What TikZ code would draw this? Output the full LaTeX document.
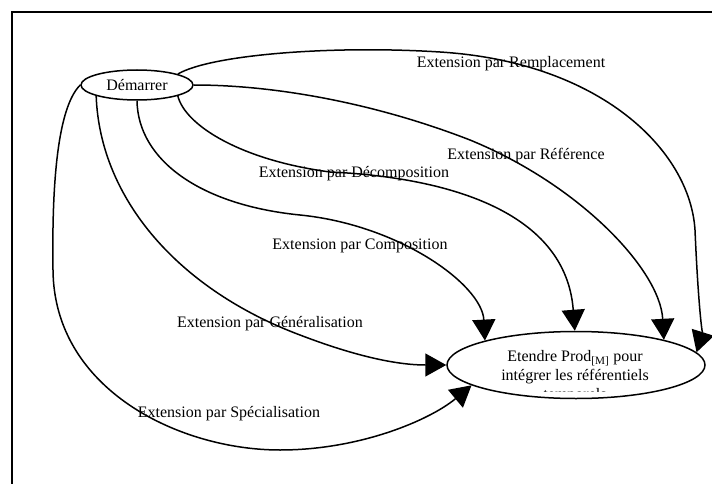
\documentclass[tikz,border=0pt]{standalone}
\usepackage{fontspec}
\setmainfont{Liberation Serif}
\usetikzlibrary{arrows.meta,shapes.geometric}

\begin{document}
\begin{tikzpicture}[x=1pt,y=-1pt,line width=1.5pt,
  etat/.style={draw,ellipse,inner sep=0pt,font=\fontsize{16}{19}\selectfont},
  fleche/.style={-{Triangle[length=21pt,width=23pt]}},
  lab/.style={font=\fontsize{16}{19}\selectfont,inner sep=0pt}]
  \useasboundingbox (0,0) rectangle (712,484);
  \draw (712,12) -- (12,12) -- (12,484);
  % les deux etats
  \node[etat,minimum width=112pt,minimum height=30pt] (start) at (137,85) {Démarrer};
  \node[etat,minimum width=258pt,minimum height=67pt] (goal) at (576,365) {};
  \begin{scope}
    \clip (450,335) rectangle (700,391);
    \node[align=center,font=\fontsize{16}{19}\selectfont] (goaltext) at (575,377)
      {Etendre Prod\textsubscript{[M]} pour\\intégrer les référentiels\\temporels};
  \end{scope}
  % etiquettes
  \foreach \t/\x/\y [count=\i] in {Remplacement/511/64, Référence/526/156, Décomposition/354/174,
      Composition/360/246, Généralisation/270/324, Spécialisation/229/414}
    \node[lab] (lab\i) at (\x,\y) {Extension par \t};
  % transitions
  \draw[fleche] (start.15) .. controls (210,55) and (330,45) .. (440,52)
    .. controls (600,62) and (690,150) .. (695,230) .. controls (698,300) and (702,335) .. (goal.6);
  \draw[fleche] (start.east) .. controls (280,85) and (380,105) .. (470,140)
    .. controls (580,185) and (660,270) .. (goal.16);
  \draw[fleche] (start.-15) .. controls (185,125) and (240,160) .. (330,172)
    .. controls (420,176) and (565,200) .. (goal.92);
  \draw[fleche] (start.south) .. controls (138,160) and (200,205) .. (300,215)
    .. controls (400,225) and (482,285) .. (goal.165);
  \draw[fleche] (start.-165) .. controls (100,200) and (180,290) .. (300,335)
    .. controls (360,358) and (400,365) .. (goal.west);
  \draw[fleche] (start.west) .. controls (55,110) and (52,200) .. (53,270)
    .. controls (54,390) and (180,450) .. (280,450) .. controls (360,450) and (430,420) .. (goal.191);
\end{tikzpicture}
\end{document}
